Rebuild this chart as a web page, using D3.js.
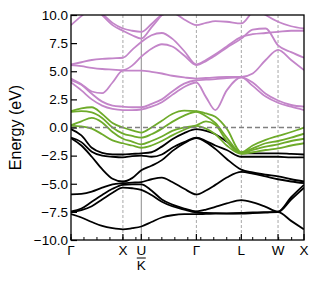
<!DOCTYPE html>
<html><head><meta charset="utf-8">
<script src="https://cdn.jsdelivr.net/npm/d3@7"></script>
<style>body{margin:0;background:#fff;} svg{display:block;font-family:"Liberation Sans",Arial,sans-serif;}</style>
</head><body><svg id="c" width="319" height="283"></svg>
<script>
// k-path sample positions (units of 2π/a)
const kPath = [0, 0.2, 0.4, 0.6, 0.8, 1.0, 1.177, 1.354, 1.55, 1.75, 1.95, 2.18, 2.415, 2.6, 2.78, 3.0, 3.281, 3.5, 3.75, 3.988, 4.24, 4.488];
const symPoints = [0, 1, 1.354, 2.415, 3.281, 3.988, 4.488];
const symLabels = ["Γ", "X", "U", "Γ", "L", "W", "X"];
const yTicks = [-10, -7.5, -5, -2.5, 0, 2.5, 5, 7.5, 10];

// valence bands (eV)
const blackBands = [
  [-7.7,-8.0,-8.4,-8.75,-8.95,-9.05,-8.95,-8.8,-8.4,-8.0,-7.8,-7.7,-7.7,-7.68,-7.66,-7.65,-7.65,-7.62,-7.57,-7.52,-8.3,-9.05],
  [-7.55,-7.35,-7.0,-6.4,-5.8,-5.35,-5.4,-5.55,-6.0,-6.6,-7.0,-7.3,-7.55,-7.6,-7.62,-7.63,-7.6,-7.55,-7.52,-7.5,-6.4,-5.35],
  [-7.45,-7.2,-6.6,-6.0,-5.45,-5.1,-5.05,-5.05,-5.6,-6.4,-6.85,-7.2,-7.45,-7.3,-7.05,-6.75,-6.45,-6.65,-7.05,-7.48,-6.2,-5.1],
  [-5.95,-5.9,-5.7,-5.35,-5.05,-4.95,-4.9,-4.85,-4.6,-4.45,-4.85,-5.45,-5.95,-5.6,-5.1,-4.45,-3.95,-4.1,-4.35,-4.6,-4.8,-4.95],
  [-0.95,-1.6,-2.6,-3.7,-4.55,-4.8,-4.5,-3.8,-3.4,-2.9,-2.1,-1.4,-0.95,-1.3,-1.9,-2.8,-3.75,-4.0,-4.2,-4.35,-4.6,-4.8],
  [-0.9,-1.3,-2.15,-2.5,-2.6,-2.65,-2.55,-2.5,-2.6,-2.4,-1.8,-1.3,-0.9,-1.2,-1.6,-2.0,-2.6,-2.6,-2.6,-2.6,-2.65,-2.65],
  [-0.15,-0.7,-1.8,-2.25,-2.38,-2.4,-2.35,-2.3,-2.2,-1.7,-1.05,-0.5,-0.15,-0.3,-0.6,-1.25,-2.3,-2.3,-2.3,-2.3,-2.35,-2.4]
];
// bands around the Fermi level
const greenBands = [
  [0.15,0.1,-0.1,-0.6,-1.15,-1.4,-1.6,-1.8,-1.6,-1.2,-0.7,-0.2,0.15,-0.1,-0.6,-1.6,-2.35,-2.2,-2.0,-1.85,-1.6,-1.4],
  [0.2,0.55,0.85,0.45,-0.4,-1.0,-1.25,-1.5,-1.2,-0.8,-0.3,0.0,0.2,0.55,0.25,-1.2,-2.3,-2.0,-1.7,-1.5,-1.2,-1.0],
  [1.4,1.45,1.35,0.85,0.0,-0.55,-0.75,-0.9,-0.6,-0.1,0.5,1.05,1.4,1.0,0.4,-0.9,-2.25,-1.85,-1.4,-1.2,-0.9,-0.55],
  [1.45,1.7,1.8,1.2,0.4,0.0,-0.25,-0.45,0.0,0.6,1.2,1.5,1.45,1.25,0.95,-0.1,-2.2,-1.6,-1.1,-0.75,-0.4,0.0]
];
// conduction bands
const purpleBands = [
  [4.0,3.3,2.5,1.95,1.65,1.55,1.55,1.6,1.85,2.25,2.9,3.6,4.0,2.7,1.55,3.3,4.45,3.7,2.75,2.2,1.85,1.55],
  [4.2,3.8,3.0,2.3,1.95,1.85,1.8,1.8,2.1,2.5,3.2,3.9,4.2,4.25,4.3,4.4,4.45,4.0,3.0,2.4,2.0,1.85],
  [4.35,3.85,3.2,3.05,4.0,5.05,5.05,5.05,4.95,4.8,4.6,4.45,4.35,4.4,4.45,4.5,4.5,4.8,6.0,6.9,6.0,5.1],
  [5.55,5.45,5.3,5.2,5.15,5.1,5.5,6.3,7.0,7.4,7.2,6.4,5.55,5.9,6.4,7.1,7.9,8.7,8.8,7.3,6.7,6.2],
  [5.6,5.8,6.0,6.1,6.15,6.2,6.9,7.6,8.2,8.4,7.9,6.8,5.6,6.0,6.5,7.2,8.05,8.3,8.4,8.5,8.6,8.6],
  [9.1,9.9,10.6,10.1,9.3,8.8,8.6,8.5,9.2,10.0,10.2,9.6,9.1,9.3,9.45,9.4,9.25,10.3,11,11,11,11],
  [12,12,11,10.0,9.1,8.6,8.2,7.9,8.9,10.0,11,12,12,12,12,12,11,10.8,10.0,9.4,9.0,8.8]
];

const m = {l: 71, t: 15, r: 304, b: 240};
const svg = d3.select("#c");
const x = d3.scaleLinear().domain([0, 4.488]).range([m.l, m.r]);
const y = d3.scaleLinear().domain([-10, 10]).range([m.b, m.t]);

svg.append("defs").append("clipPath").attr("id", "clip")
  .append("rect").attr("x", m.l).attr("y", m.t).attr("width", m.r - m.l).attr("height", m.b - m.t);

// vertical high-symmetry lines
symPoints.slice(1, -1).forEach((k, i) => {
  const isUK = (i + 1) === 2;
  svg.append("line").attr("x1", x(k)).attr("x2", x(k)).attr("y1", m.t).attr("y2", m.b)
    .attr("stroke", isUK ? "#8c8c8c" : "#a8a8a8").attr("stroke-width", 1)
    .attr("stroke-dasharray", isUK ? null : "3,2");
});

const line = d3.line().x((d, i) => x(kPath[i])).y(d => y(d)).curve(d3.curveMonotoneX);
const g = svg.append("g").attr("clip-path", "url(#clip)");
const drawSet = (bands, color) => bands.forEach(b => g.append("path").attr("d", line(b))
  .attr("fill", "none").attr("stroke", color).attr("stroke-width", 1.8).attr("stroke-linejoin", "round"));
drawSet(blackBands, "#000000");
drawSet(purpleBands, "#c385c9");
drawSet(greenBands, "#6eab2a");

// Fermi level
svg.append("line").attr("x1", m.l).attr("x2", m.r).attr("y1", y(0)).attr("y2", y(0))
  .attr("stroke", "#808080").attr("stroke-width", 1.3).attr("stroke-dasharray", "5,3");

// frame
svg.append("rect").attr("x", m.l).attr("y", m.t).attr("width", m.r - m.l).attr("height", m.b - m.t)
  .attr("fill", "none").attr("stroke", "#000").attr("stroke-width", 1.3);

// y axis (ticks pointing inward)
const fmt = d => d3.format(".1f")(d).replace("-", "−");
const yAxis = d3.axisLeft(y).tickValues(yTicks).tickFormat(fmt).tickSize(-6).tickPadding(3);
const ya = svg.append("g").attr("transform", `translate(${m.l},0)`).call(yAxis);
ya.select(".domain").remove();
ya.selectAll("text").attr("font-size", 13.5).attr("fill", "#000").attr("x", -3).attr("font-family", "Liberation Sans, Arial, sans-serif");
ya.selectAll("line").attr("stroke", "#000").attr("stroke-width", 1.2);

// x minor ticks (inward)
const minor = d3.range(0, 4.49, 0.25);
svg.append("g").selectAll("line").data(minor).join("line")
  .attr("x1", d => x(d)).attr("x2", d => x(d)).attr("y1", m.b).attr("y2", m.b - 3)
  .attr("stroke", "#000").attr("stroke-width", 1);
// x major ticks
svg.append("g").selectAll("line").data(symPoints).join("line")
  .attr("x1", d => x(d)).attr("x2", d => x(d)).attr("y1", m.b).attr("y2", m.b - 6)
  .attr("stroke", "#000").attr("stroke-width", 1.2);
svg.append("g").selectAll("text").data(symLabels).join("text")
  .attr("x", (d, i) => x(symPoints[i])).attr("y", 255).attr("text-anchor", "middle")
  .attr("font-size", 13.5).text(d => d);
// K under U with bar
const kx = x(symPoints[2]);
svg.append("line").attr("x1", kx - 4.5).attr("x2", kx + 4.5).attr("y1", 258).attr("y2", 258).attr("stroke", "#000").attr("stroke-width", 1);
svg.append("text").attr("x", kx).attr("y", 270).attr("text-anchor", "middle").attr("font-size", 13.5).text("K");

// y label
svg.append("text").attr("transform", `translate(21,${(m.t + m.b) / 2}) rotate(-90)`)
  .attr("text-anchor", "middle").attr("font-size", 16).text("Energy (eV)");
</script></body></html>
